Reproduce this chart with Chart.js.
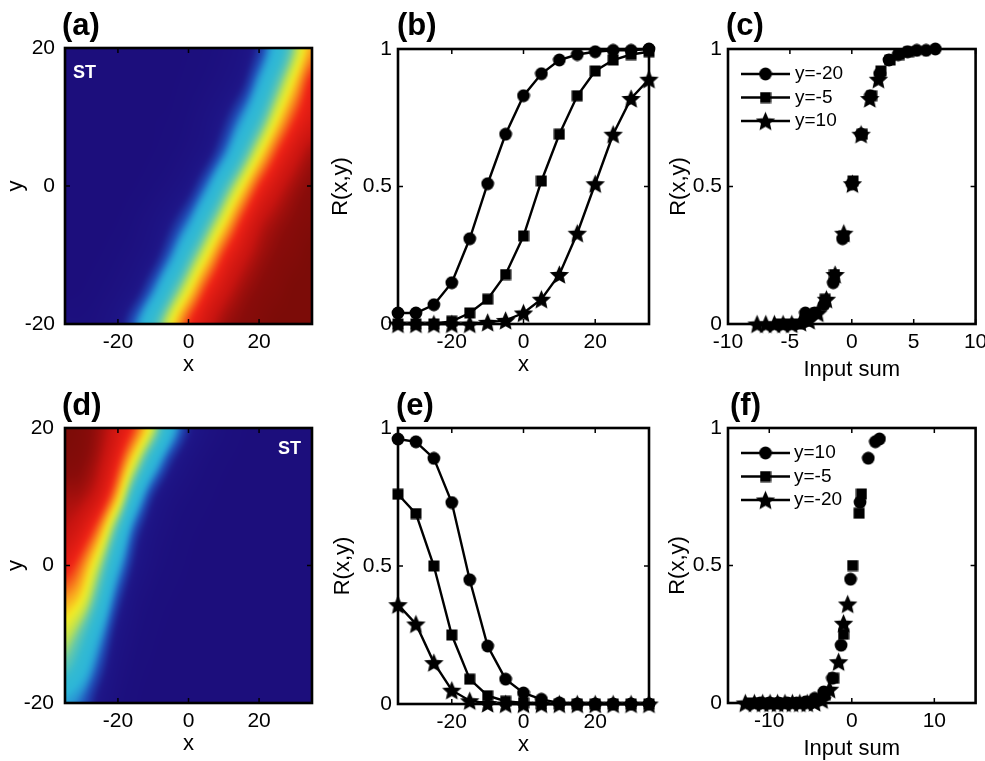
<!DOCTYPE html>
<html><head><meta charset="utf-8">
<script src="https://cdn.jsdelivr.net/npm/chart.js@4.4.1/dist/chart.umd.min.js"></script>
<style>
html,body{margin:0;padding:0;background:#fff}
body{width:985px;height:761px;position:relative;overflow:hidden;font-family:"Liberation Sans",Arial,sans-serif}
canvas{position:absolute}
.pl{position:absolute;font-weight:bold;font-size:31px;line-height:1;color:#000;white-space:nowrap}
.st{position:absolute;font-weight:bold;font-size:18px;line-height:1;color:#fff;white-space:nowrap}
</style></head><body>
<canvas id="cA" width="330" height="380" style="left:0;top:0"></canvas>
<canvas id="cB" width="330" height="380" style="left:330px;top:0"></canvas>
<canvas id="cC" width="330" height="385" style="left:655px;top:0"></canvas>
<canvas id="cD" width="330" height="381" style="left:0;top:380px"></canvas>
<canvas id="cE" width="330" height="381" style="left:330px;top:380px"></canvas>
<canvas id="cF" width="330" height="381" style="left:655px;top:380px"></canvas>
<div class="pl" style="left:62px;top:9px">(a)</div>
<div class="pl" style="left:397px;top:9px">(b)</div>
<div class="pl" style="left:726px;top:9px">(c)</div>
<div class="pl" style="left:62px;top:389px">(d)</div>
<div class="pl" style="left:396px;top:389px">(e)</div>
<div class="pl" style="left:730px;top:389px">(f)</div>
<div class="st" style="left:73px;top:63px">ST</div>
<div class="st" style="left:278px;top:439px">ST</div>
<script>
const FONT = '"Liberation Sans", Arial, sans-serif';

// ---------- data ----------
const xPos = [-35,-30,-25,-20,-15,-10,-5,0,5,10,15,20,25,30,35];

// (b) R(x,y) for three y values
const rB_yM20 = [0.04,0.04,0.07,0.15,0.31,0.51,0.69,0.83,0.91,0.96,0.98,0.99,0.995,0.995,1.0];
const rB_yM5  = [0,0,0,0.01,0.04,0.09,0.18,0.32,0.52,0.69,0.83,0.92,0.96,0.98,0.99];
const rB_y10  = [0,0,0,0,0,0.006,0.013,0.04,0.09,0.18,0.33,0.51,0.69,0.82,0.89];

// (c) input sums for the same points
const sumC_yM20 = [-3.75,-3.0,-2.25,-1.5,-0.75,0,0.75,1.5,2.25,3.0,3.75,4.5,5.25,6.0,6.75];
const sumC_yM5  = [-5.9,-5.15,-4.4,-3.65,-2.9,-2.15,-1.4,-0.65,0.1,0.85,1.6,2.35,3.1,3.85,4.6];
const sumC_y10  = [-7.65,-6.95,-6.25,-5.55,-4.85,-4.15,-3.45,-2.75,-2.05,-1.35,-0.65,0.05,0.75,1.45,2.15];

// (e) R(x,y) for three y values
const rE_y10  = [0.96,0.95,0.89,0.73,0.45,0.21,0.09,0.04,0.017,0.004,0,0,0,0,0];
const rE_yM5  = [0.76,0.69,0.50,0.25,0.09,0.03,0.01,0.004,0,0,0,0,0,0,0];
const rE_yM20 = [0.36,0.29,0.15,0.05,0.012,0.002,0,0,0,0,0,0,0,0,0];

// (f) input sums
const sumF_y10  = [3.35,2.85,2.0,1.0,-0.15,-1.3,-2.35,-3.4,-4.5,-5.6,-6.7,-7.8,-8.9,-10.0,-11.1];
const sumF_yM5  = [1.17,0.88,0.1,-1.0,-2.2,-3.2,-4.2,-5.2,-6.2,-7.2,-8.2,-9.2,-10.2,-11.2,-12.2];
const sumF_yM20 = [-0.5,-1.0,-1.6,-2.7,-3.6,-4.5,-5.4,-6.3,-7.2,-8.1,-9.0,-9.9,-10.8,-11.8,-12.9];

// heat maps: rows are y = heatYs, columns are x = xPos
const heatYs = [-20,-15,-10,-5,0,5,10,15,20];
const heatA = [
  [0.04,0.04,0.07,0.15,0.31,0.51,0.69,0.83,0.91,0.96,0.98,0.99,1,1,1],
  [0,0.01,0.035,0.075,0.155,0.315,0.52,0.69,0.83,0.91,0.958,0.98,0.99,1,1],
  [0,0,0.01,0.035,0.075,0.155,0.315,0.52,0.69,0.83,0.91,0.958,0.98,0.99,1],
  [0,0,0,0.01,0.04,0.09,0.18,0.32,0.52,0.69,0.83,0.92,0.96,0.98,0.99],
  [0,0,0,0,0.01,0.035,0.075,0.155,0.315,0.52,0.69,0.83,0.91,0.958,0.98],
  [0,0,0,0,0,0.01,0.03,0.07,0.145,0.30,0.50,0.68,0.82,0.905,0.955],
  [0,0,0,0,0,0.006,0.013,0.04,0.09,0.18,0.33,0.51,0.69,0.82,0.89],
  [0,0,0,0,0,0,0.005,0.02,0.045,0.09,0.175,0.36,0.555,0.72,0.85],
  [0,0,0,0,0,0,0,0.01,0.025,0.055,0.11,0.23,0.42,0.61,0.76]
];
const heatD = [
  [0.36,0.29,0.15,0.05,0.012,0.002,0,0,0,0,0,0,0,0,0],
  [0.55,0.43,0.25,0.09,0.025,0.006,0,0,0,0,0,0,0,0,0],
  [0.66,0.55,0.36,0.15,0.05,0.015,0.004,0,0,0,0,0,0,0,0],
  [0.76,0.69,0.50,0.25,0.09,0.03,0.01,0.004,0,0,0,0,0,0,0],
  [0.86,0.78,0.62,0.38,0.17,0.065,0.025,0.008,0,0,0,0,0,0,0],
  [0.93,0.88,0.76,0.53,0.26,0.11,0.045,0.017,0.005,0,0,0,0,0,0],
  [0.96,0.95,0.89,0.73,0.45,0.21,0.09,0.04,0.017,0.004,0,0,0,0,0],
  [0.99,0.98,0.94,0.84,0.66,0.43,0.22,0.10,0.04,0.015,0.004,0,0,0,0],
  [1.0,0.99,0.96,0.90,0.81,0.65,0.41,0.21,0.095,0.04,0.012,0.004,0,0,0]
];

// ticks and labels
const ticksXY = [-20,0,20];
const ticksR = [0,0.5,1];
const ticksSumC = [-10,-5,0,5,10];
const ticksSumF = [-10,0,10];
const legendC = ['y=-20','y=-5','y=10'];
const legendF = ['y=10','y=-5','y=-20'];

// ---------- styling helpers ----------
const cmapStops = [
  [0.00,[28,14,124]],[0.18,[30,22,136]],[0.28,[32,80,186]],[0.34,[40,150,212]],
  [0.40,[44,182,216]],[0.50,[52,186,208]],[0.58,[100,200,170]],[0.64,[190,226,80]],
  [0.70,[244,236,34]],[0.76,[250,160,30]],[0.84,[240,34,22]],[0.93,[200,20,16]],
  [0.98,[136,12,10]],[1.00,[124,12,8]]
];
function cmap(v){
  if (v <= 0) return cmapStops[0][1];
  for (let i = 1; i < cmapStops.length; i++){
    if (v <= cmapStops[i][0]){
      const [a0,c0] = cmapStops[i-1], [a1,c1] = cmapStops[i];
      const t = (v-a0)/(a1-a0);
      return [c0[0]+(c1[0]-c0[0])*t, c0[1]+(c1[1]-c0[1])*t, c0[2]+(c1[2]-c0[2])*t];
    }
  }
  return cmapStops[cmapStops.length-1][1];
}
function locate(arr, v){
  const n = arr.length;
  if (v <= arr[0]) return [0,0];
  if (v >= arr[n-1]) return [n-2,1];
  let i = 0; while (arr[i+1] < v) i++;
  return [i,(v-arr[i])/(arr[i+1]-arr[i])];
}
function cr(p0,p1,p2,p3,t){
  return 0.5*((2*p1)+(-p0+p2)*t+(2*p0-5*p1+4*p2-p3)*t*t+(-p0+3*p1-3*p2+p3)*t*t*t);
}
function sampleGrid(grid, i, tx, j, ty){
  const nr = grid.length, nc = grid[0].length;
  const cl = (k,n)=>Math.max(0,Math.min(n-1,k));
  const rows = [];
  for (let d=-1; d<=2; d++){
    const r = grid[cl(j+d,nr)];
    rows.push(cr(r[cl(i-1,nc)], r[cl(i,nc)], r[cl(i+1,nc)], r[cl(i+2,nc)], tx));
  }
  return Math.max(0,Math.min(1,cr(rows[0],rows[1],rows[2],rows[3],ty)));
}

function marker(type){
  const s = type==='star' ? 21 : (type==='circle' ? 14 : 12);
  const c = document.createElement('canvas'); c.width = c.height = s;
  const g = c.getContext('2d'); g.fillStyle = '#000'; const m = s/2;
  if (type==='circle'){ g.beginPath(); g.arc(m,m,m-0.6,0,Math.PI*2); g.fill(); }
  else if (type==='square'){ g.fillRect(0.5,0.5,s-1,s-1); }
  else { g.beginPath();
    for (let k=0;k<10;k++){ const a=-Math.PI/2+k*Math.PI/5; const rr = k%2 ? m*0.45 : m-0.3;
      g.lineTo(m+rr*Math.cos(a), m+1+rr*Math.sin(a)); }
    g.closePath(); g.fill(); }
  return c;
}
const mkCircle = marker('circle'), mkSquare = marker('square'), mkStar = marker('star');

function heatPlugin(xs, ys, grid){
  return { id:'heat', beforeDatasetsDraw(chart){
    const {ctx, chartArea:a, scales:{x,y}} = chart;
    const M = 12;
    const L = Math.round(a.left), T = Math.round(a.top);
    const W = Math.round(a.right)-L, H = Math.round(a.bottom)-T;
    const OW = W+2*M, OH = H+2*M;
    const off = document.createElement('canvas'); off.width = OW; off.height = OH;
    const og = off.getContext('2d');
    const img = og.createImageData(OW,OH);
    for (let py=0; py<OH; py++){
      const yv = y.getValueForPixel(T-M+py+0.5);
      const [j,ty] = locate(ys, yv);
      for (let px=0; px<OW; px++){
        const xv = x.getValueForPixel(L-M+px+0.5);
        const [i,tx] = locate(xs, xv);
        const c = cmap(sampleGrid(grid, i, tx, j, ty)); const k = (py*OW+px)*4;
        img.data[k]=c[0]; img.data[k+1]=c[1]; img.data[k+2]=c[2]; img.data[k+3]=255;
      }
    }
    og.putImageData(img, 0, 0);
    ctx.save();
    ctx.beginPath(); ctx.rect(a.left, a.top, a.right-a.left, a.bottom-a.top); ctx.clip();
    ctx.filter = 'blur(2.5px)';
    ctx.drawImage(off, L-M, T-M);
    ctx.restore();
  }};
}
const framePlugin = { id:'frame', afterDatasetsDraw(chart){
  const {ctx, chartArea:a, scales:{x,y}} = chart;
  ctx.save(); ctx.strokeStyle='#000'; ctx.lineWidth=1.5; ctx.beginPath();
  x.ticks.forEach(t=>{ const p=x.getPixelForValue(t.value);
    ctx.moveTo(p,a.bottom); ctx.lineTo(p,a.bottom-5); ctx.moveTo(p,a.top); ctx.lineTo(p,a.top+5); });
  y.ticks.forEach(t=>{ const p=y.getPixelForValue(t.value);
    ctx.moveTo(a.left,p); ctx.lineTo(a.left+5,p); ctx.moveTo(a.right,p); ctx.lineTo(a.right-5,p); });
  ctx.stroke();
  ctx.lineWidth=2.6; ctx.strokeRect(a.left,a.top,a.right-a.left,a.bottom-a.top);
  ctx.restore();
}};
function legendPlugin(labels, imgs, tx){
  return { id:'innerLegend', afterDraw(chart){
    const {ctx, chartArea:a} = chart;
    ctx.save();
    labels.forEach((lab,i)=>{
      const y = a.top + 25 + i*23.5;
      ctx.strokeStyle='#000'; ctx.lineWidth=2.4; ctx.beginPath();
      ctx.moveTo(a.left+13,y); ctx.lineTo(a.left+62,y); ctx.stroke();
      const im = imgs[i]; ctx.drawImage(im, a.left+37.5-im.width/2, y-im.height/2);
      ctx.fillStyle='#000'; ctx.font='19px '+FONT; ctx.textBaseline='middle'; ctx.textAlign='left';
      ctx.fillText(lab, a.left+tx, y);
    });
    ctx.restore();
  }};
}

function axes(o){
  const tickFont = {family:FONT, size:21};
  const titleFont = {family:FONT, size:22, lineHeight:1};
  return {
    x:{ type:'linear', min:o.xr[0], max:o.xr[1], grid:{display:false, drawTicks:false}, border:{display:false},
      ticks:{ color:'#000', font:tickFont, padding:6, maxRotation:0, autoSkip:false, callback:v=>String(v) },
      afterBuildTicks:s=>{ s.ticks = o.xt.map(v=>({value:v})); },
      afterFit:s=>{ s.height=o.xh; s.paddingLeft=0; s.paddingRight=0; },
      title:{ display:true, text:o.xl, color:'#000', font:titleFont, padding:{top:0,bottom:o.xp} } },
    y:{ type:'linear', min:o.yr[0], max:o.yr[1], grid:{display:false, drawTicks:false}, border:{display:false},
      ticks:{ color:'#000', font:tickFont, padding:o.ytp, autoSkip:false, callback:v=>String(v) },
      afterBuildTicks:s=>{ s.ticks = o.yt.map(v=>({value:v})); },
      afterFit:s=>{ s.width=o.yw; s.paddingTop=0; s.paddingBottom=0; },
      title:{ display:true, text:o.yl, color:'#000', font:titleFont, padding:{top:o.yp,bottom:0} } }
  };
}
function series(xs, ys, img, label, line){
  return { label, data: xs.map((x,i)=>({x, y: ys[i]})), showLine: line, borderColor:'#000',
    borderWidth:2.4, backgroundColor:'#000', pointStyle: img, pointRadius:7, pointHoverRadius:7,
    clip:false, tension:0 };
}
function make(id, o, datasets, plugins){
  return new Chart(document.getElementById(id), {
    type:'scatter',
    data:{ datasets },
    options:{ responsive:false, animation:false, events:[],
      layout:{ padding:{left:0, top:o.pt, right:o.pr, bottom:0} },
      plugins:{ legend:{display:false}, tooltip:{enabled:false} },
      scales: axes(o) },
    plugins: plugins
  });
}

// (a)
make('cA', {xr:[-35,35], yr:[-20,20], xt:ticksXY, yt:ticksXY, xl:'x', yl:'y', xh:56, yw:65, xp:4, yp:5, ytp:10, pt:48, pr:18},
  [], [heatPlugin(xPos, heatYs, heatA), framePlugin]);
// (b)
make('cB', {xr:[-35,35], yr:[0,1], xt:ticksXY, yt:ticksR, xl:'x', yl:'R(x,y)', xh:56, yw:68, xp:4, yp:0, ytp:6, pt:49, pr:11},
  [series(xPos, rB_yM20, mkCircle, 'y=-20', true), series(xPos, rB_yM5, mkSquare, 'y=-5', true), series(xPos, rB_y10, mkStar, 'y=10', true)],
  [framePlugin]);
// (c)
make('cC', {xr:[-10,10], yr:[0,1], xt:ticksSumC, yt:ticksR, xl:'Input sum', yl:'R(x,y)', xh:61, yw:73, xp:4, yp:13, ytp:6, pt:49, pr:5},
  [series(sumC_yM20, rB_yM20, mkCircle, legendC[0], false), series(sumC_yM5, rB_yM5, mkSquare, legendC[1], false), series(sumC_y10, rB_y10, mkStar, legendC[2], false)],
  [framePlugin, legendPlugin(legendC, [mkCircle, mkSquare, mkStar], 67)]);
// (d)
make('cD', {xr:[-35,35], yr:[-20,20], xt:ticksXY, yt:ticksXY, xl:'x', yl:'y', xh:58, yw:65, xp:6, yp:5, ytp:11, pt:48, pr:18},
  [], [heatPlugin(xPos, heatYs, heatD), framePlugin]);
// (e)
make('cE', {xr:[-35,35], yr:[0,1], xt:ticksXY, yt:ticksR, xl:'x', yl:'R(x,y)', xh:57, yw:68, xp:5, yp:2, ytp:6, pt:48, pr:11},
  [series(xPos, rE_y10, mkCircle, 'y=10', true), series(xPos, rE_yM5, mkSquare, 'y=-5', true), series(xPos, rE_yM20, mkStar, 'y=-20', true)],
  [framePlugin]);
// (f)
make('cF', {xr:[-15,15], yr:[0,1], xt:ticksSumF, yt:ticksR, xl:'Input sum', yl:'R(x,y)', xh:58, yw:73, xp:1, yp:12, ytp:6, pt:48, pr:6},
  [series(sumF_y10, rE_y10, mkCircle, legendF[0], false), series(sumF_yM5, rE_yM5, mkSquare, legendF[1], false), series(sumF_yM20, rE_yM20, mkStar, legendF[2], false)],
  [framePlugin, legendPlugin(legendF, [mkCircle, mkSquare, mkStar], 66)]);
</script>
</body></html>
